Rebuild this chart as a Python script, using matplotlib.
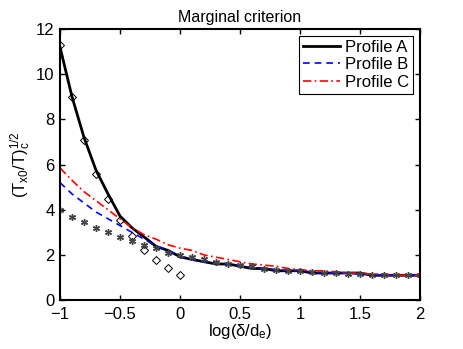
import numpy as np
import matplotlib
matplotlib.use("Agg")
import matplotlib.pyplot as plt

plt.rcParams["font.family"] = ["Liberation Sans", "DejaVu Sans"]
plt.rcParams["mathtext.fontset"] = "custom"
plt.rcParams["mathtext.rm"] = "Liberation Sans"
plt.rcParams["mathtext.it"] = "Liberation Sans"

# ----------------------------------------------------
# data
# ----------------------------------------------------
x = np.round(np.arange(-1.0, 2.01, 0.1), 1)

profile_a = [11.2, 9.0, 7.2, 5.75, 4.7, 3.72, 3.2, 2.8, 2.38, 2.2, 1.92,
             1.8, 1.7, 1.6, 1.6, 1.5, 1.4, 1.4, 1.3, 1.3, 1.3,
             1.2, 1.2, 1.2, 1.2, 1.2, 1.1, 1.1, 1.1, 1.1, 1.1]
profile_b = [5.2, 4.7, 4.3, 3.9, 3.6, 3.3, 3.0, 2.7, 2.4, 2.2, 1.95,
             1.8, 1.7, 1.65, 1.55, 1.5, 1.45, 1.4, 1.35, 1.3, 1.3,
             1.25, 1.2, 1.2, 1.2, 1.15, 1.15, 1.1, 1.1, 1.1, 1.1]
profile_c = [5.85, 5.3, 4.8, 4.4, 4.0, 3.6, 3.2, 2.9, 2.7, 2.45, 2.3,
             2.2, 2.0, 1.9, 1.8, 1.7, 1.6, 1.55, 1.5, 1.4, 1.35,
             1.3, 1.3, 1.25, 1.2, 1.2, 1.15, 1.15, 1.1, 1.1, 1.1]

x_diamond = [-1.0, -0.9, -0.8, -0.7, -0.6, -0.5, -0.4, -0.3, -0.2, -0.1, 0.0]
diamond = [11.3, 9.0, 7.1, 5.6, 4.47, 3.54, 2.85, 2.21, 1.77, 1.41, 1.1]

star = [3.98, 3.69, 3.45, 3.2, 3.0, 2.8, 2.6, 2.45, 2.3, 2.1, 2.0,
        1.9, 1.8, 1.7, 1.6, 1.55, 1.5, 1.4, 1.35, 1.3, 1.3,
        1.25, 1.2, 1.2, 1.15, 1.15, 1.1, 1.1, 1.1, 1.1, 1.1]

# ----------------------------------------------------
# plot
# ----------------------------------------------------
fig = plt.figure(figsize=(4.63, 3.49), dpi=100)
ax = fig.add_axes([0.1296, 0.140, 0.7775, 0.777])

ax.plot(x, profile_a, color="black", lw=2.0, label="Profile A")
ax.plot(x, profile_b, color="blue", lw=1.2, ls=(0, (4, 3)), label="Profile B")
ax.plot(x, profile_c, color="red", lw=1.2, ls=(0, (5, 2, 1, 2)), label="Profile C")
ax.plot(x_diamond, diamond, ls="none", marker="D", ms=4.5, mfc="none",
        mec="black", mew=0.7)
ax.plot(x, star, ls="none", marker=(6, 2, 0), ms=5, color="#444444", mew=1.0)

ax.set_xlim(-1, 2)
ax.set_ylim(0, 12)
ax.set_xticks([-1, -0.5, 0, 0.5, 1, 1.5, 2])
ax.set_xticklabels(["\u22121", "\u22120.5", "0", "0.5", "1", "1.5", "2"])
ax.set_yticks(range(0, 13, 2))
ax.tick_params(direction="in", top=True, right=True, labelsize=12,
               width=1.0, length=3.5)
ax.tick_params(axis="x", pad=5)
ax.tick_params(axis="y", pad=4)
for s in ax.spines.values():
    s.set_linewidth(1.5)

ax.set_title("Marginal criterion", fontsize=11.5, pad=5)
ax.set_xlabel(r"log($\delta$/d$_\mathrm{e}$)", fontsize=12, labelpad=0)
ax.set_ylabel(r"$\mathrm{(T_{x0}/T)_c^{1/2}}$", fontsize=12, labelpad=2)

leg = ax.legend(loc="upper right", fontsize=12, fancybox=False,
                edgecolor="black", framealpha=1, handlelength=2.2,
                borderaxespad=0.4, labelspacing=0.15, handletextpad=0.3,
                borderpad=0.25)
leg.get_frame().set_linewidth(0.8)

plt.savefig("out.png", dpi=100)
plt.close()
